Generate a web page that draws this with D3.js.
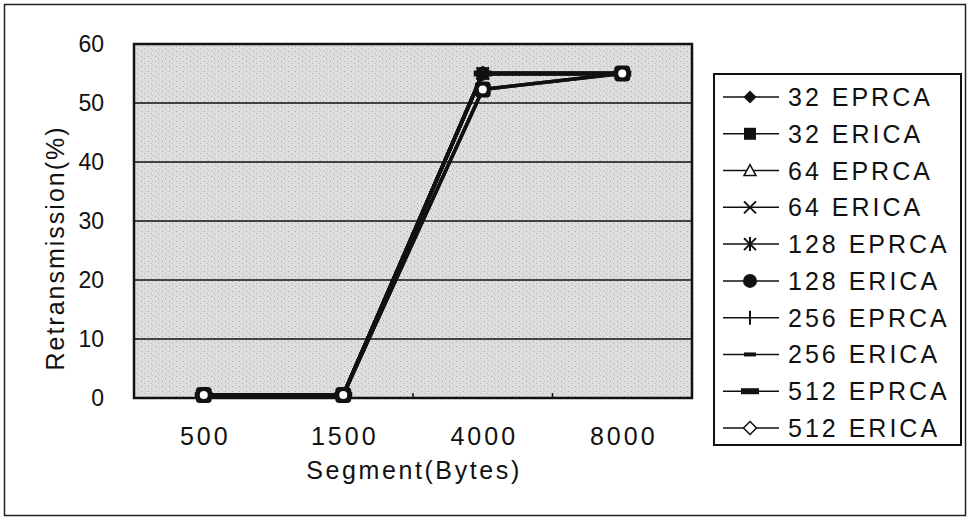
<!DOCTYPE html>
<html lang="en">
<head>
<meta charset="UTF-8">
<title>Retransmission chart</title>
<script src="https://d3js.org/d3.v7.min.js"></script>
<style>
    body { margin: 0; background: #fff; }
    text {
        font-family: "Liberation Sans", Arial, sans-serif;
        fill: #111;
    }
    .tick-y { font-size: 23px; }
    .tick-x { font-size: 25px; letter-spacing: 3px; }
    .axis-title { font-size: 25px; letter-spacing: 2.6px; }
    .y-title { letter-spacing: 2px; }
    .legend-text { font-size: 25px; letter-spacing: 3px; }
</style>
</head>
<body>
<script>
const categories = ["500", "1500", "4000", "8000"];
const yTicks = [0, 10, 20, 30, 40, 50, 60];
const seriesNames = ["32 EPRCA", "32 ERICA", "64 EPRCA", "64 ERICA", "128 EPRCA",
    "128 ERICA", "256 EPRCA", "256 ERICA", "512 EPRCA", "512 ERICA"];
const seriesValues = [
    [0.5, 0.5, 55, 55],
    [0.5, 0.5, 55, 55],
    [0.5, 0.5, 55, 55],
    [0.5, 0.5, 55, 55],
    [0.5, 0.5, 55, 55],
    [0.5, 0.5, 55, 55],
    [0.5, 0.5, 55, 55],
    [0.5, 0.5, 52.3, 55],
    [0.5, 0.5, 55, 55],
    [0.5, 0.5, 52.3, 55]
];
const markers = ["diamondFill", "square", "triangle", "x", "asterisk",
    "circle", "plus", "dash", "bar", "diamondOpen"];

const width = 968, height = 517;
const plot = {left: 134, right: 692, top: 44, bottom: 398};

const svg = d3.select("body").append("svg")
    .attr("width", width)
    .attr("height", height);

// speckled grey fill like the scanned original
const defs = svg.append("defs");
const pat = defs.append("pattern")
    .attr("id", "speckle")
    .attr("width", 7).attr("height", 5)
    .attr("patternUnits", "userSpaceOnUse");
pat.append("rect").attr("width", 7).attr("height", 5).attr("fill", "#dedede");
pat.append("rect").attr("x", 1).attr("y", 1).attr("width", 1).attr("height", 1).attr("fill", "#a8a8a8");
pat.append("rect").attr("x", 4).attr("y", 3).attr("width", 1).attr("height", 1).attr("fill", "#b4b4b4");
pat.append("rect").attr("x", 5).attr("y", 0).attr("width", 1).attr("height", 1).attr("fill", "#c4c4c4");

// outer frame
svg.append("rect")
    .attr("x", 4.5).attr("y", 4.5)
    .attr("width", width - 7).attr("height", height - 6)
    .attr("fill", "#fff")
    .attr("stroke", "#222").attr("stroke-width", 1.5);

const x = d3.scaleBand().domain(categories).range([plot.left, plot.right]);
const y = d3.scaleLinear().domain([0, 60]).range([plot.bottom, plot.top]);
const cx = d => x(d) + x.bandwidth() / 2;

svg.append("rect")
    .attr("x", plot.left).attr("y", plot.top)
    .attr("width", plot.right - plot.left).attr("height", plot.bottom - plot.top)
    .attr("fill", "url(#speckle)");

// gridlines
svg.append("g")
    .selectAll("line")
    .data(yTicks.filter(d => d > 0 && d < 60))
    .join("line")
    .attr("x1", plot.left).attr("x2", plot.right)
    .attr("y1", d => y(d)).attr("y2", d => y(d))
    .attr("stroke", "#111").attr("stroke-width", 1.5);

svg.append("rect")
    .attr("x", plot.left).attr("y", plot.top)
    .attr("width", plot.right - plot.left).attr("height", plot.bottom - plot.top)
    .attr("fill", "none")
    .attr("stroke", "#111").attr("stroke-width", 2.5);

// y labels
svg.append("g")
    .selectAll("text")
    .data(yTicks)
    .join("text")
    .attr("class", "tick-y")
    .attr("x", 104)
    .attr("y", d => y(d))
    .attr("dy", "0.36em")
    .attr("text-anchor", "end")
    .text(d => d);

// small ticks between categories
svg.append("g")
    .selectAll("line")
    .data(categories.slice(1))
    .join("line")
    .attr("x1", d => x(d)).attr("x2", d => x(d))
    .attr("y1", plot.bottom).attr("y2", plot.bottom - 5)
    .attr("stroke", "#111").attr("stroke-width", 1.5);

svg.append("g")
    .selectAll("text")
    .data(categories)
    .join("text")
    .attr("class", "tick-x")
    .attr("x", d => cx(d) + 1.5)
    .attr("y", 436)
    .attr("dy", "0.36em")
    .attr("text-anchor", "middle")
    .text(d => d);

svg.append("text")
    .attr("class", "axis-title")
    .attr("x", 414)
    .attr("y", 470)
    .attr("dy", "0.36em")
    .attr("text-anchor", "middle")
    .text("Segment(Bytes)");

svg.append("text")
    .attr("class", "axis-title y-title")
    .attr("transform", "translate(64, 248) rotate(-90)")
    .attr("text-anchor", "middle")
    .text("Retransmission(%)");

function drawMarker(g, type) {
    const s = "#111";
    switch (type) {
        case "diamondFill":
            g.append("path").attr("d", "M0,-6.5L6.5,0L0,6.5L-6.5,0Z").attr("fill", s);
            break;
        case "square":
            g.append("rect").attr("x", -6).attr("y", -6).attr("width", 12).attr("height", 12).attr("fill", s);
            break;
        case "triangle":
            g.append("path").attr("d", "M0,-6L6,5L-6,5Z").attr("fill", "#fff").attr("stroke", s).attr("stroke-width", 1.5);
            break;
        case "x":
            g.append("path").attr("d", "M-6,-6L6,6M6,-6L-6,6").attr("stroke", s).attr("stroke-width", 2);
            break;
        case "asterisk":
            g.append("path").attr("d", "M-6,-6L6,6M6,-6L-6,6M0,-7L0,7").attr("stroke", s).attr("stroke-width", 2);
            break;
        case "circle":
            g.append("circle").attr("r", 7).attr("fill", s);
            break;
        case "plus":
            g.append("path").attr("d", "M0,-7L0,7").attr("stroke", s).attr("stroke-width", 2);
            break;
        case "dash":
            g.append("rect").attr("x", -6).attr("y", -2).attr("width", 12).attr("height", 4).attr("fill", s);
            break;
        case "bar":
            g.append("rect").attr("x", -9).attr("y", -3).attr("width", 18).attr("height", 6).attr("fill", s);
            break;
        case "diamondOpen":
            g.append("path").attr("d", "M0,-6.5L6.5,0L0,6.5L-6.5,0Z").attr("fill", "#fff").attr("stroke", s).attr("stroke-width", 1.5);
            break;
    }
}

const line = d3.line()
    .x((d, i) => cx(categories[i]))
    .y(d => y(d));

seriesValues.forEach(vals => {
    svg.append("path")
        .attr("d", line(vals))
        .attr("fill", "none")
        .attr("stroke", "#111")
        .attr("stroke-width", 3.5);
});

seriesValues.forEach((vals, si) => {
    vals.forEach((v, i) => {
        const g = svg.append("g")
            .attr("transform", `translate(${cx(categories[i])}, ${y(v)})`);
        if (si === seriesValues.length - 1) {
            // top-most open diamond, blotted like the scan
            g.append("rect").attr("x", -8).attr("y", -8).attr("width", 16).attr("height", 16)
                .attr("rx", 4).attr("fill", "#111");
            g.append("circle").attr("r", 4).attr("fill", "#fff");
        } else {
            drawMarker(g, markers[si]);
        }
    });
});

// legend
const legend = svg.append("g");
legend.append("rect")
    .attr("x", 714).attr("y", 74)
    .attr("width", 247).attr("height", 371)
    .attr("fill", "#fff")
    .attr("stroke", "#111").attr("stroke-width", 2);

const ly = d3.scalePoint().domain(seriesNames).range([97, 428]);

seriesNames.forEach((name, i) => {
    const row = legend.append("g").attr("transform", `translate(0, ${ly(name)})`);
    row.append("line")
        .attr("x1", 723).attr("x2", 779)
        .attr("stroke", "#111").attr("stroke-width", 1.5);
    drawMarker(row.append("g").attr("transform", "translate(750,0)"), markers[i]);
    row.append("text")
        .attr("class", "legend-text")
        .attr("x", 788)
        .attr("dy", "0.36em")
        .text(name);
});
</script>
</body>
</html>
